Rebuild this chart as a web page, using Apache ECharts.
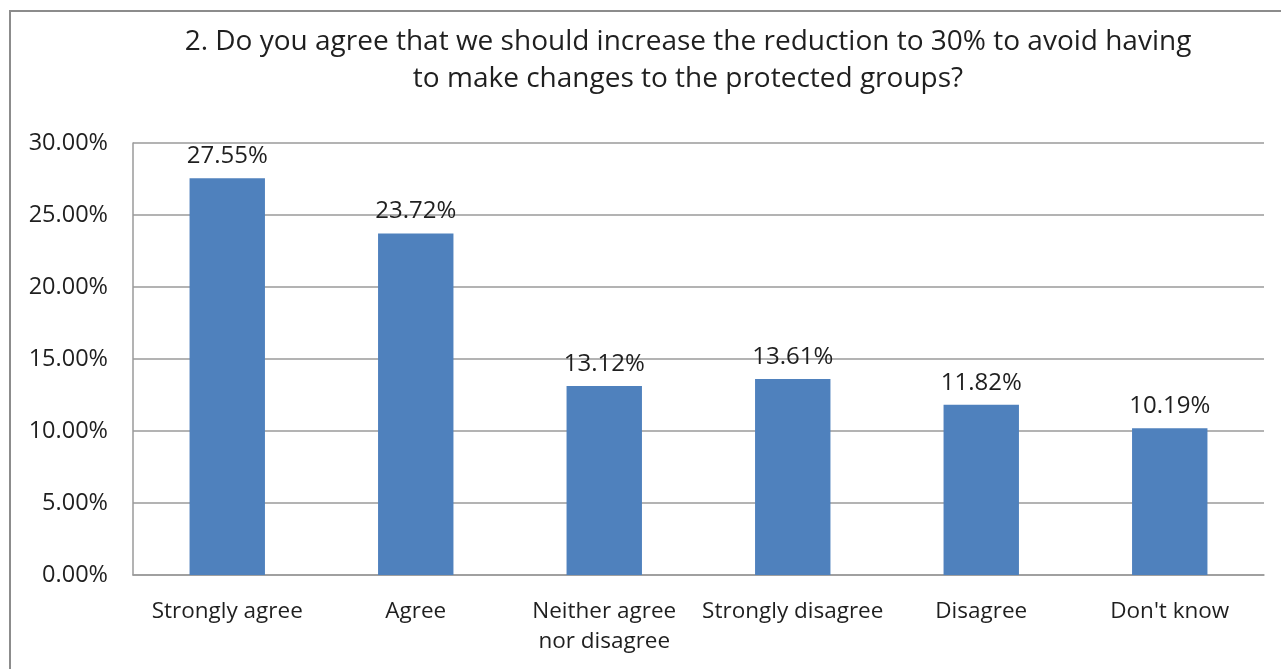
<!DOCTYPE html>
<html>
<head>
<meta charset="utf-8">
<script src="https://cdn.jsdelivr.net/npm/echarts@6/dist/echarts.min.js"></script>
<style>
  html, body { margin: 0; padding: 0; background: #fff; }
  #chart { width: 1281px; height: 669px; }
</style>
</head>
<body>
<div id="chart"></div>
<script>
// Survey responses, question 2
const titleText = '2. Do you agree that we should increase the reduction to 30% to avoid having\nto make changes to the protected groups?';
const categories = ['Strongly agree', 'Agree', 'Neither agree\nnor disagree', 'Strongly disagree', 'Disagree', "Don't know"];
const shares = [27.55, 23.72, 13.12, 13.61, 11.82, 10.19];

const FONT = '"Open Sans", "Noto Sans", sans-serif';
const TEXT = '#1f1f1f';

const chart = echarts.init(document.getElementById('chart'), null, { renderer: 'canvas' });

chart.setOption({
  backgroundColor: '#ffffff',
  animation: false,
  title: {
    text: titleText,
    left: 683,
    top: 19,
    textAlign: 'center',
    textStyle: {
      fontFamily: FONT,
      fontSize: 28,
      fontWeight: 'normal',
      color: TEXT,
      lineHeight: 37
    }
  },
  graphic: [{
    type: 'rect',
    shape: { x: 10, y: 11, width: 1300, height: 700 },
    style: { fill: 'none', stroke: '#8c8c8c', lineWidth: 2 },
    silent: true
  }],
  grid: { left: 133, right: 17, top: 143, bottom: 94, containLabel: false },
  xAxis: {
    type: 'category',
    data: categories,
    axisLine: { show: true, lineStyle: { color: '#9a9a9a', width: 1.5 } },
    axisTick: { show: false },
    axisLabel: {
      interval: 0,
      margin: 22,
      fontFamily: FONT,
      fontSize: 22.5,
      color: TEXT,
      lineHeight: 30
    }
  },
  yAxis: {
    type: 'value',
    min: 0,
    max: 30,
    interval: 5,
    axisLine: { show: true, lineStyle: { color: '#9a9a9a', width: 1.5 } },
    axisTick: { show: false },
    splitLine: { show: true, lineStyle: { color: '#9a9a9a', width: 1.5 } },
    axisLabel: {
      margin: 25,
      fontFamily: FONT,
      fontSize: 23.5,
      color: TEXT,
      formatter: v => v.toFixed(2) + '%'
    }
  },
  series: [{
    type: 'bar',
    data: shares,
    barWidth: '40%',
    itemStyle: { color: '#4f81bd' },
    label: {
      show: true,
      position: 'top',
      distance: 10,
      fontFamily: FONT,
      fontSize: 24,
      color: TEXT,
      formatter: p => p.value.toFixed(2) + '%'
    }
  }]
});
</script>
</body>
</html>
